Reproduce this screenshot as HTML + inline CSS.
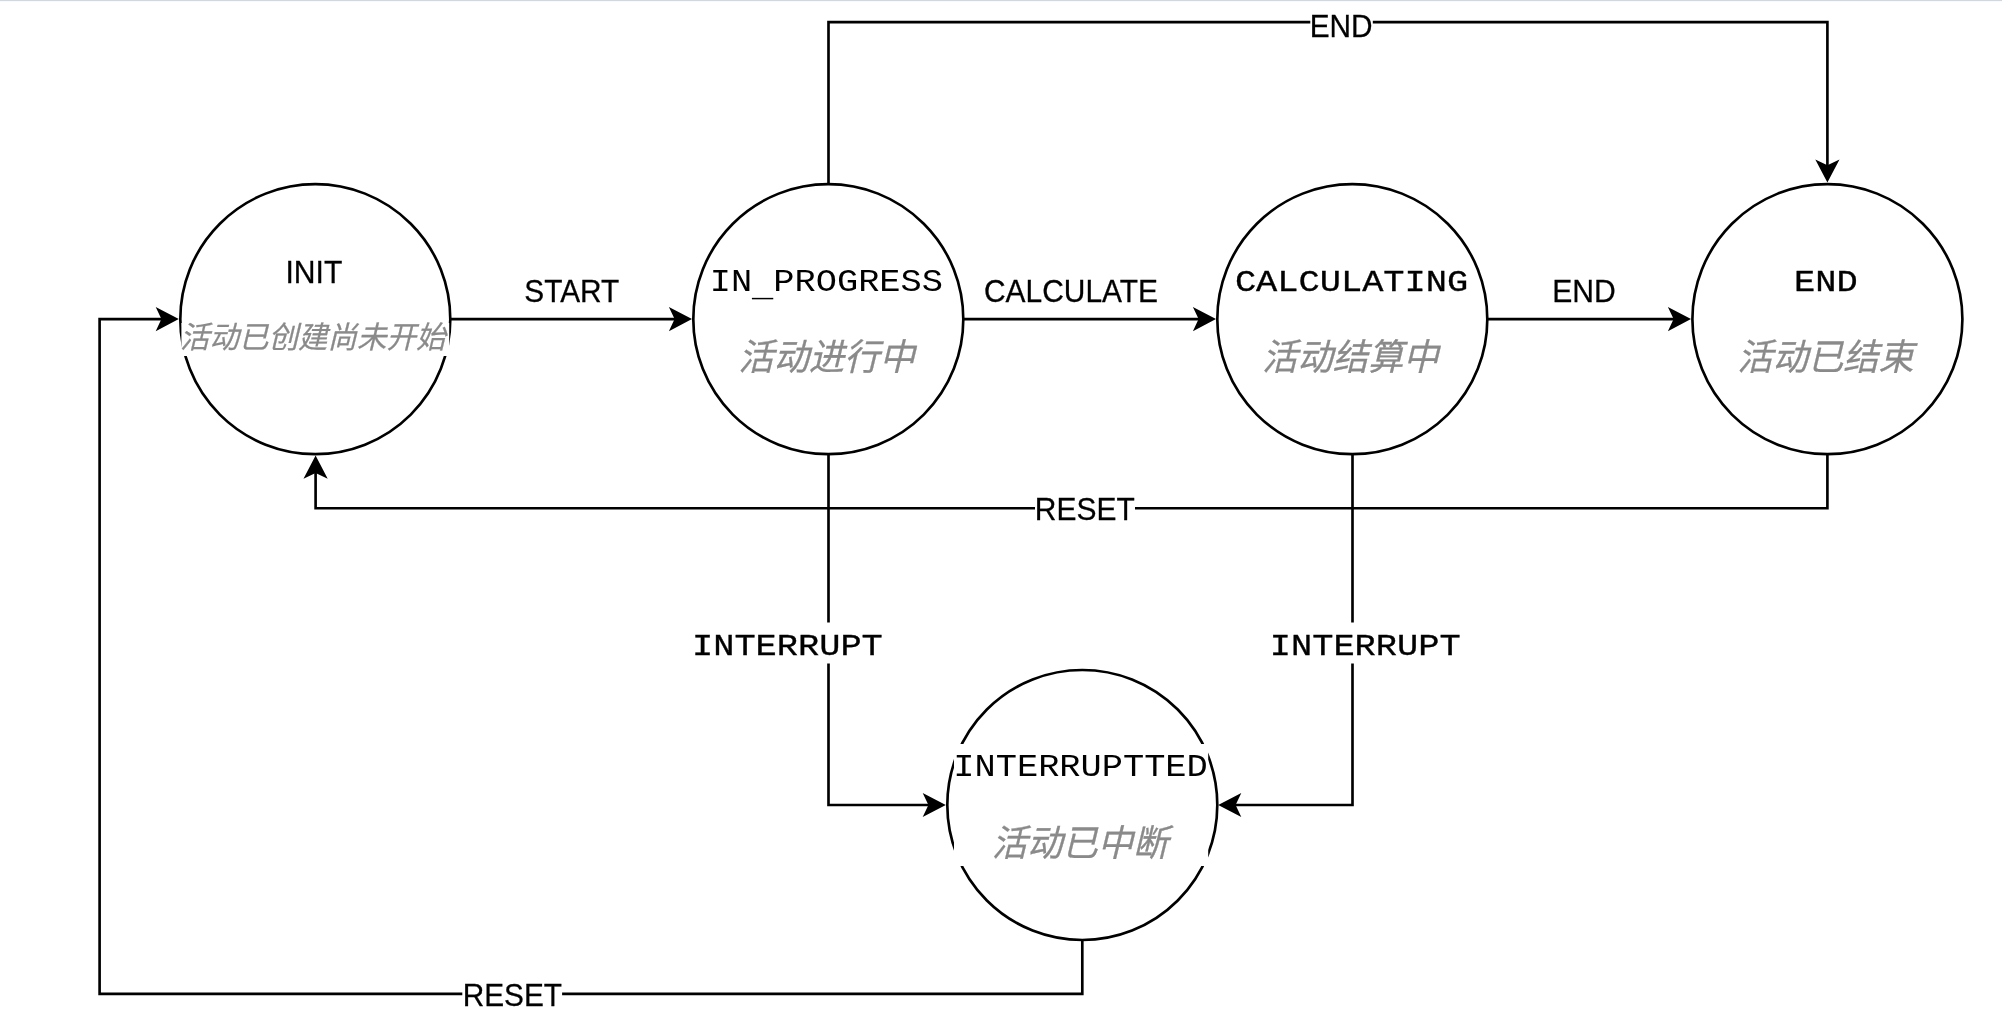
<!DOCTYPE html>
<html lang="zh-CN"><head><meta charset="utf-8"><title>State diagram</title>
<style>
html,body{margin:0;padding:0;background:#fff;}
body{width:2002px;height:1015px;overflow:hidden;}
svg{display:block;}
text{white-space:pre;}
</style></head><body>
<svg width="2002" height="1015" viewBox="0 0 2002 1015">
<rect x="0" y="0" width="2002" height="1" fill="#cfd8e1"/><rect x="0" y="1" width="2002" height="1" fill="#f9fafc"/>
<g fill="none" stroke="#000" stroke-width="2.65">
<circle cx="315.3" cy="319.15" r="135" fill="#fff"/>
<circle cx="828.3" cy="319.15" r="135" fill="#fff"/>
<circle cx="1352.3" cy="319.15" r="135" fill="#fff"/>
<circle cx="1827.4" cy="319.15" r="135" fill="#fff"/>
<circle cx="1082.3" cy="805" r="135" fill="#fff"/>
<path d="M450.3 319.15 H676" stroke-linejoin="miter"/>
<path d="M963.3 319.15 H1200" stroke-linejoin="miter"/>
<path d="M1487.3 319.15 H1675" stroke-linejoin="miter"/>
<path d="M828.5 184.3 V22.1 H1827.4 V166" stroke-linejoin="miter"/>
<path d="M1827.4 454 V508.2 H315.6 V472" stroke-linejoin="miter"/>
<path d="M828.5 454 V805 H930" stroke-linejoin="miter"/>
<path d="M1352.5 454 V805 H1234" stroke-linejoin="miter"/>
<path d="M1082.3 940 V993.8 H99.6 V319.15 H163" stroke-linejoin="miter"/>
</g>
<polygon points="178.8,319.1 155.7,307.0 161.4,319.1 155.7,331.2" fill="#000"/>
<polygon points="692.0,319.1 668.9,307.0 674.6,319.1 668.9,331.2" fill="#000"/>
<polygon points="1216.0,319.1 1192.9,307.0 1198.6,319.1 1192.9,331.2" fill="#000"/>
<polygon points="1691.0,319.1 1667.9,307.0 1673.6,319.1 1667.9,331.2" fill="#000"/>
<polygon points="1827.4,182.6 1815.3,159.5 1827.4,165.2 1839.5,159.5" fill="#000"/>
<polygon points="315.6,455.6 303.5,478.7 315.6,473.0 327.7,478.7" fill="#000"/>
<polygon points="945.8,805.0 922.7,792.9 928.4,805.0 922.7,817.1" fill="#000"/>
<polygon points="1218.2,805.0 1241.3,792.9 1235.6,805.0 1241.3,817.1" fill="#000"/>
<rect x="181.4" y="323.0" width="267.8" height="33.0" fill="#fff"/>
<rect x="954" y="744" width="254.2" height="122.0" fill="#fff"/>
<rect x="1310.3" y="8" width="62.5" height="34.0" fill="#fff"/>
<rect x="1035" y="492" width="100.0" height="34.0" fill="#fff"/>
<rect x="462.3" y="978" width="99.8" height="34.0" fill="#fff"/>
<rect x="692" y="622.5" width="193.0" height="41.0" fill="#fff"/>
<rect x="1270" y="622.5" width="193.0" height="41.0" fill="#fff"/>
<g opacity="0.999">
<text transform="matrix(0.3011 0 0 0.3129 285.49 282.59)" font-family="'Liberation Sans', sans-serif" font-size="100" stroke="#000" stroke-width="0.9" fill="#000">INIT</text>
<text transform="matrix(0.2984 0 0 0.3141 524.31 301.59)" font-family="'Liberation Sans', sans-serif" font-size="100" stroke="#000" stroke-width="0.9" fill="#000">START</text>
<text transform="matrix(0.2993 0 0 0.3141 984.00 301.59)" font-family="'Liberation Sans', sans-serif" font-size="100" stroke="#000" stroke-width="0.9" fill="#000">CALCULATE</text>
<text transform="matrix(0.3010 0 0 0.3145 1552.29 301.60)" font-family="'Liberation Sans', sans-serif" font-size="100" stroke="#000" stroke-width="0.9" fill="#000">END</text>
<text transform="matrix(0.2980 0 0 0.3145 1309.72 37.00)" font-family="'Liberation Sans', sans-serif" font-size="100" stroke="#000" stroke-width="0.9" fill="#000">END</text>
<text transform="matrix(0.2997 0 0 0.3113 1034.80 519.99)" font-family="'Liberation Sans', sans-serif" font-size="100" stroke="#000" stroke-width="0.9" fill="#000">RESET</text>
<text transform="matrix(0.2981 0 0 0.3127 462.71 1005.89)" font-family="'Liberation Sans', sans-serif" font-size="100" stroke="#000" stroke-width="0.9" fill="#000">RESET</text>
<text transform="matrix(0.3535 0 0 0.3085 709.71 290.59)" font-family="'Liberation Mono', monospace" font-size="100"  fill="#000">IN<tspan dy="16">_</tspan><tspan dy="-16">PROGRESS</tspan></text>
<text transform="matrix(0.3535 0 0 0.3040 1234.92 290.70)" font-family="'Liberation Mono', monospace" font-size="100" stroke="#000" stroke-width="1.1" fill="#000">CALCULATING</text>
<text transform="matrix(0.3535 0 0 0.3040 1794.03 290.70)" font-family="'Liberation Mono', monospace" font-size="100" stroke="#000" stroke-width="1.1" fill="#000">END</text>
<text transform="matrix(0.3535 0 0 0.3085 953.36 776.39)" font-family="'Liberation Mono', monospace" font-size="100"  fill="#000">INTERRUPTTED</text>
<text transform="matrix(0.3535 0 0 0.3040 691.99 654.90)" font-family="'Liberation Mono', monospace" font-size="100" stroke="#000" stroke-width="1.1" fill="#000">INTERRUPT</text>
<text transform="matrix(0.3535 0 0 0.3040 1269.79 654.90)" font-family="'Liberation Mono', monospace" font-size="100" stroke="#000" stroke-width="1.1" fill="#000">INTERRUPT</text>
<text transform="matrix(0.2950 0 0 0.3052 180.04 348.05)" font-family="'Liberation Sans', 'Noto Sans CJK SC', sans-serif" font-size="100" font-style="italic" stroke="#8a8a8a" stroke-width="0.8" fill="#8a8a8a">活动已创建尚未开始</text>
<text transform="matrix(0.3527 0 0 0.3663 738.48 370.47)" font-family="'Liberation Sans', 'Noto Sans CJK SC', sans-serif" font-size="100" font-style="italic" stroke="#8a8a8a" stroke-width="0.8" fill="#8a8a8a">活动进行中</text>
<text transform="matrix(0.3527 0 0 0.3663 1262.28 370.47)" font-family="'Liberation Sans', 'Noto Sans CJK SC', sans-serif" font-size="100" font-style="italic" stroke="#8a8a8a" stroke-width="0.8" fill="#8a8a8a">活动结算中</text>
<text transform="matrix(0.3527 0 0 0.3663 1737.60 370.47)" font-family="'Liberation Sans', 'Noto Sans CJK SC', sans-serif" font-size="100" font-style="italic" stroke="#8a8a8a" stroke-width="0.8" fill="#8a8a8a">活动已结束</text>
<text transform="matrix(0.3527 0 0 0.3663 992.10 856.07)" font-family="'Liberation Sans', 'Noto Sans CJK SC', sans-serif" font-size="100" font-style="italic" stroke="#8a8a8a" stroke-width="0.8" fill="#8a8a8a">活动已中断</text>
</g>
</svg>
</body></html>
